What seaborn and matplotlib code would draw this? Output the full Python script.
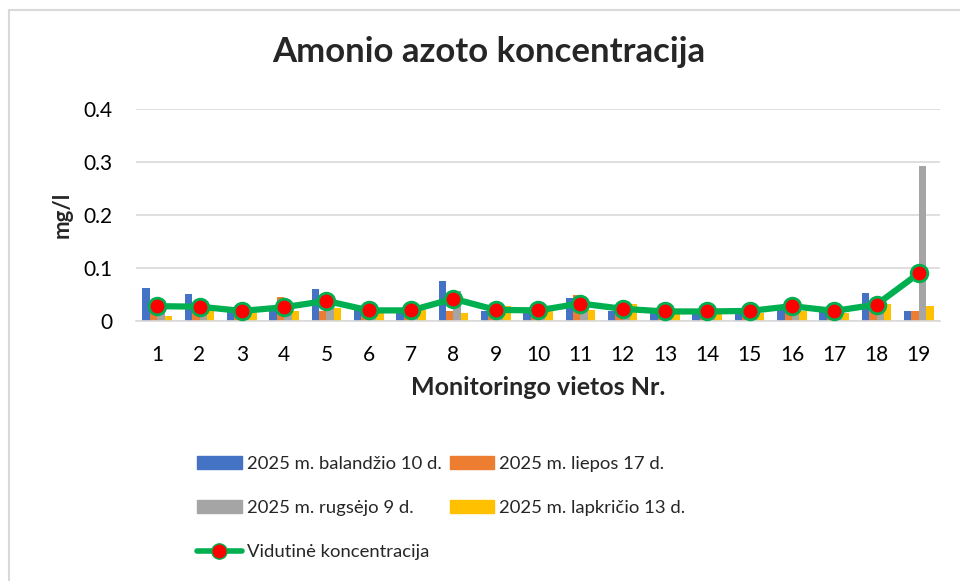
import matplotlib
matplotlib.use("Agg")
import matplotlib.pyplot as plt
import matplotlib.patches as mpatches
import matplotlib.lines as mlines
import seaborn as sns
import pandas as pd
import numpy as np

# Data
sites = [str(i) for i in range(1, 20)]
balandzio = [0.063, 0.051, 0.022, 0.020, 0.060, 0.022, 0.020, 0.075, 0.019, 0.019,
             0.043, 0.019, 0.018, 0.019, 0.020, 0.025, 0.020, 0.052, 0.019]
liepos = [0.020, 0.021, 0.020, 0.045, 0.019, 0.020, 0.020, 0.019, 0.018, 0.020,
          0.049, 0.020, 0.020, 0.019, 0.020, 0.040, 0.020, 0.018, 0.019]
rugsejo = [0.021, 0.018, 0.020, 0.020, 0.047, 0.021, 0.020, 0.057, 0.020, 0.020,
           0.020, 0.020, 0.020, 0.020, 0.020, 0.028, 0.020, 0.022, 0.293]
lapkricio = [0.009, 0.018, 0.015, 0.019, 0.025, 0.015, 0.021, 0.016, 0.028, 0.021,
             0.020, 0.033, 0.013, 0.015, 0.016, 0.018, 0.016, 0.032, 0.028]
vidutine = [0.028, 0.027, 0.019, 0.026, 0.038, 0.020, 0.020, 0.042, 0.021, 0.020,
            0.033, 0.023, 0.018, 0.018, 0.019, 0.028, 0.019, 0.031, 0.090]

series_names = ["2025 m. balandžio 10 d.", "2025 m. liepos 17 d.",
                "2025 m. rugsėjo 9 d.", "2025 m. lapkričio 13 d."]
colors = ["#4472C4", "#ED7D31", "#A5A5A5", "#FFC000"]

df = pd.DataFrame({
    "site": sites * 4,
    "value": balandzio + liepos + rugsejo + lapkricio,
    "series": np.repeat(series_names, len(sites)),
})

sns.set_style("white")
plt.rcParams["font.family"] = ["Lato", "DejaVu Sans"]

fig = plt.figure(figsize=(9.6, 5.81), dpi=100)
ax = fig.add_axes([0.1417, 0.4475, 0.8375, 0.365])

sns.barplot(data=df, x="site", y="value", hue="series", palette=colors,
            width=0.7, ax=ax, legend=False, saturation=1, linewidth=0)

ax.plot(np.arange(len(sites)), vidutine, color="#00B050", linewidth=4.5,
        marker="o", markersize=12, markerfacecolor="#FF0000",
        markeredgecolor="#00B050", markeredgewidth=2, zorder=5)

ax.set_ylim(0, 0.4)
ax.set_xlim(-0.5, len(sites) - 0.5)
ax.set_yticks([0, 0.1, 0.2, 0.3, 0.4])
ax.set_yticklabels(["0", "0.1", "0.2", "0.3", "0.4"])
ax.yaxis.grid(True, color="#D9D9D9", linewidth=1.2)
ax.set_axisbelow(True)
for s in ["top", "right", "left"]:
    ax.spines[s].set_visible(False)
ax.spines["bottom"].set_color("#D9D9D9")
ax.spines["bottom"].set_linewidth(1.2)
ax.tick_params(axis="both", length=0, labelsize=15, colors="black")
ax.tick_params(axis="y", pad=17)
ax.tick_params(axis="x", pad=17)

ax.set_xlabel("Monitoringo vietos Nr.", fontsize=18, fontweight="bold", labelpad=8)
ax.set_ylabel("mg/l", fontsize=16, fontweight="bold", labelpad=8)
fig.text(0.509, 0.9105, "Amonio azoto koncentracija", ha="center", va="center",
         fontsize=25, fontweight="bold")

# legend: column-major ordering gives the two-by-two layout plus the line
handles = [
    mpatches.Patch(color=colors[0], label=series_names[0]),
    mpatches.Patch(color=colors[2], label=series_names[2]),
    mlines.Line2D([], [], color="#00B050", linewidth=4, marker="o", markersize=11,
                  markerfacecolor="#FF0000", markeredgecolor="#00B050",
                  label="Vidutinė koncentracija"),
    mpatches.Patch(color=colors[1], label=series_names[1]),
    mpatches.Patch(color=colors[3], label=series_names[3]),
]
fig.legend(handles=handles, ncol=2, loc="upper left", bbox_to_anchor=(0.2052, 0.216),
           frameon=False, fontsize=13.3, handlelength=2.43, handleheight=0.7,
           handletextpad=0.27, columnspacing=0.43, labelspacing=1.54,
           borderaxespad=0, borderpad=0)

# chart border
fig.patches.append(mpatches.Rectangle((9 / 960, -0.01), 1.0, 1 - 10 / 581 + 0.01,
                                      transform=fig.transFigure, fill=False,
                                      edgecolor="#D9D9D9", linewidth=1.5))

fig.savefig("out.png", dpi=100)
